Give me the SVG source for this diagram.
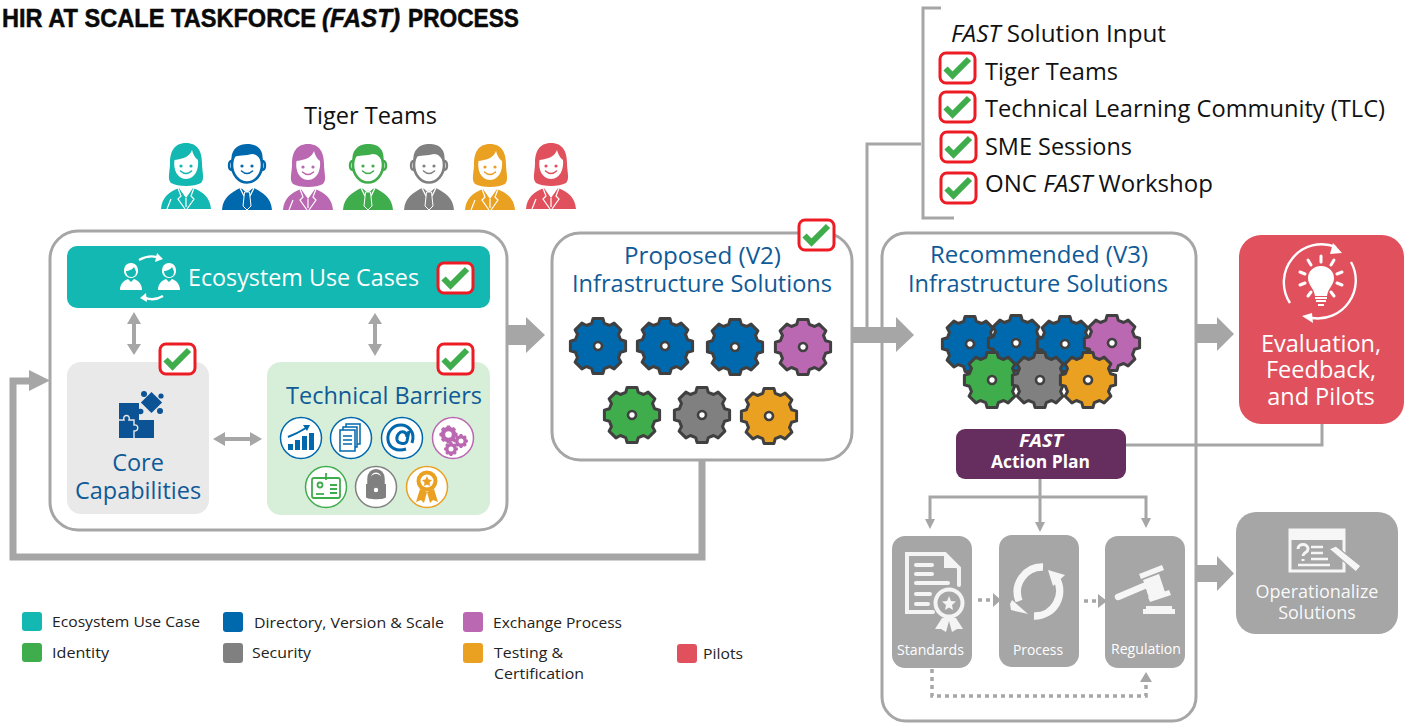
<svg xmlns="http://www.w3.org/2000/svg" xmlns:xlink="http://www.w3.org/1999/xlink" width="1410" height="723" viewBox="0 0 1410 723">
<style>
text{font-family:"Open Sans","Noto Sans","DejaVu Sans",sans-serif}
.t24{font-size:23.5px;fill:#111}
.blue{font-size:23.5px;fill:#0f5a97}
.wht{fill:#fff}
.leg{font-size:15px;fill:#222}
.ttl{font-family:"Liberation Sans",Arial,sans-serif;font-weight:700;font-size:26.5px;fill:#0a0a0a;stroke:#0a0a0a;stroke-width:.5}
.box{fill:#fff;stroke:#a6a6a6;stroke-width:3}
.ln{fill:none;stroke:#a6a6a6;stroke-width:3}
.dot{fill:none;stroke:#a6a6a6;stroke-width:3.5;stroke-dasharray:4 4}
.ar{fill:#a6a6a6}
.c-teal{color:#12b8b1}.c-blue{color:#0068ac}.c-pur{color:#ba68b1}.c-grn{color:#40ad4d}.c-gry{color:#808080}.c-org{color:#eaa021}.c-red{color:#e0515d}
.ic{fill:none;stroke:#f4f4f4;stroke-linecap:round}
</style>
<defs>
<path id="gearShape" d="M22.6,-6.3L27.6,-4.9L27.6,4.9L22.6,6.3L20.5,11.6L22.9,16.1L16.1,22.9L11.6,20.5L6.3,22.6L4.9,27.6L-4.9,27.6L-6.3,22.6L-11.6,20.5L-16.1,22.9L-22.9,16.1L-20.5,11.6L-22.6,6.3L-27.6,4.9L-27.6,-4.9L-22.6,-6.3L-20.5,-11.6L-22.9,-16.1L-16.1,-22.9L-11.6,-20.5L-6.3,-22.6L-4.9,-27.6L4.9,-27.6L6.3,-22.6L11.6,-20.5L16.1,-22.9L22.9,-16.1L20.5,-11.6Z"/>
<symbol id="gear" viewBox="-32 -32 64 64" width="64" height="64" overflow="visible">
<use href="#gearShape" fill="currentColor" stroke="#404040" stroke-width="3" stroke-linejoin="round"/>
<circle r="4" fill="#fff" stroke="#404040" stroke-width="2.6"/>
</symbol>
<symbol id="gearp" viewBox="-32 -32 64 64" width="64" height="64" overflow="visible">
<use href="#gearShape" fill="#ba68b1"/>
<circle r="10" fill="#fff"/>
</symbol>
<symbol id="check" viewBox="0 0 36 31" width="36" height="31" overflow="visible">
<rect x="1" y="1" width="35" height="30" rx="6" fill="#fff" stroke="#ed1c24" stroke-width="3"/>
<path d="M6.5,16.5L13.5,23.5L30,7" fill="none" stroke="#40ad4d" stroke-width="6"/>
</symbol>
<symbol id="woman" viewBox="0 0 50 66" width="50" height="66" overflow="visible">
<path fill="currentColor" d="M25,0C37,0 41,9 41,20C41,29 44,36 40,40C33,44 17,44 10,40C6,36 9,29 9,20C9,9 13,0 25,0Z"/>
<path fill="#fff" d="M31,7C29,13 23,16 13.5,17C12,26 16,36 25,36C34,36 38,26 37,17C34,15 32,11 31,7Z"/>
<circle cx="20" cy="23" r="1.6" fill="currentColor"/><circle cx="30" cy="23" r="1.6" fill="currentColor"/>
<path d="M19.5,28Q25,33 30.5,28" fill="none" stroke="currentColor" stroke-width="1.6" stroke-linecap="round"/>
<path fill="currentColor" d="M0,66C1,54 8,49 18,45L25,55L32,45C42,49 49,54 50,66Z"/>
<path d="M17,45L20,53L17,56L24,66M33,45L30,53L33,56L26,66M25,55V64M6,66L10,56" fill="none" stroke="#fff" stroke-width="1.2"/>
</symbol>
<symbol id="man" viewBox="0 0 50 66" width="50" height="66" overflow="visible">
<ellipse cx="25" cy="21" rx="15" ry="17.5" fill="#fff" stroke="currentColor" stroke-width="2.6"/>
<path fill="currentColor" d="M10,20C7,5 17,0 25,0C35,0 43,5 40,20C38,13 34,10 30,10C24,12 15,11 12,13Z"/>
<path d="M10,17C6,17 6,26 10,26M40,17C44,17 44,26 40,26" fill="none" stroke="currentColor" stroke-width="2.4"/>
<circle cx="20" cy="22" r="1.6" fill="currentColor"/><circle cx="30" cy="22" r="1.6" fill="currentColor"/>
<path d="M19.5,27Q25,32 30.5,27" fill="none" stroke="currentColor" stroke-width="1.6" stroke-linecap="round"/>
<path fill="currentColor" d="M0,66C1,53 9,49 18,44L25,47L32,44C41,49 49,53 50,66Z"/>
<path d="M21,45L25,48L29,45M18,44L22,52M32,44L28,52" fill="none" stroke="#fff" stroke-width="1.3"/>
<path d="M22.5,48L27.5,48L29,62L25,66L21,62Z" fill="currentColor" stroke="#fff" stroke-width="1"/>
</symbol>
<symbol id="mini" viewBox="0 0 22 27" width="22" height="27" overflow="visible">
<path fill="#fff" d="M11,0C16,0 18,4 18,8C18,12 15,15 11,15C7,15 4,12 4,8C4,4 6,0 11,0Z"/>
<path fill="#12b8b1" d="M6,8C9,8 13,6 14,4C15,6 16,8 16,9C16,12 14,14 11,14C8,14 6,11 6,8Z"/>
<path fill="#fff" d="M0,27C0,20 5,17 8,16L11,19L14,16C17,17 22,20 22,27Z"/>
</symbol>
</defs>

<g id="title">
<text class="ttl" x="2" y="27" textLength="314" lengthAdjust="spacingAndGlyphs">HIR AT SCALE TASKFORCE</text>
<text class="ttl" x="322" y="27" textLength="78" lengthAdjust="spacingAndGlyphs" font-style="italic">(FAST)</text>
<text class="ttl" x="408" y="27" textLength="111" lengthAdjust="spacingAndGlyphs">PROCESS</text>
</g>

<g id="tiger-teams">
<text class="t24" x="304" y="124" textLength="133" lengthAdjust="spacingAndGlyphs">Tiger Teams</text>
<use href="#woman" class="c-teal" x="161" y="143"/>
<use href="#man" class="c-blue" x="222" y="144"/>
<use href="#woman" class="c-pur" x="283" y="144"/>
<use href="#man" class="c-grn" x="343" y="144"/>
<use href="#man" class="c-gry" x="404" y="144"/>
<use href="#woman" class="c-org" x="465" y="144"/>
<use href="#woman" class="c-red" x="526" y="143"/>
</g>

<g id="solution-input">
<text class="t24" x="951" y="42" textLength="215" lengthAdjust="spacingAndGlyphs"><tspan font-style="italic">FAST</tspan> Solution Input</text>
<text class="t24" x="985" y="80" textLength="133" lengthAdjust="spacingAndGlyphs">Tiger Teams</text>
<text class="t24" x="985" y="117" textLength="400" lengthAdjust="spacingAndGlyphs">Technical Learning Community (TLC)</text>
<text class="t24" x="985" y="155" textLength="147" lengthAdjust="spacingAndGlyphs">SME Sessions</text>
<text class="t24" x="985" y="192" textLength="228" lengthAdjust="spacingAndGlyphs">ONC <tspan font-style="italic">FAST</tspan> Workshop</text>
<use href="#check" x="939" y="52"/>
<use href="#check" x="939" y="91"/>
<use href="#check" x="940" y="131"/>
<use href="#check" x="940" y="172"/>
</g>

<g id="ecosystem-box">
<rect class="box" x="50" y="231" width="457" height="299" rx="28"/>
</g>
<g id="proposed-frame">
<rect class="box" x="552" y="233" width="300" height="227" rx="28"/>
</g>
<g id="recommended-frame">
<rect class="box" x="882" y="233" width="314" height="488" rx="24"/>
</g>

<g id="connectors">
<path class="ln" d="M941,8H923V218H954"/>
<path class="ln" d="M921,144H867V333"/>
<path class="ln" d="M1126,445H1322V424"/>
<path class="ln" d="M1040,479V524M930,521V497H1146V520"/>
<path d="M925,519L935,519L930,529ZM1035,522L1045,522L1040,532ZM1141,518L1151,518L1146,528Z" class="ar"/>
<path d="M702,460V557H13V381H32" fill="none" stroke="#a6a6a6" stroke-width="7"/>
<path class="ar" d="M29,370L50,380.5L29,391Z"/>
<path class="ar" d="M506,325H526V317L545,335L526,353V345H506Z"/>
<path class="ar" d="M852,327H896V317L914,335L896,352V343H852Z"/>
<path class="ar" d="M1197,324H1217V317L1234,334L1217,351V343H1197Z"/>
<path class="ar" d="M1196,565H1217V556L1234,573.5L1217,591V582H1196Z"/>
<path class="ar" d="M127,324L134,312L141,324H136V344H141L134,355L127,344H132V324Z"/>
<path class="ar" d="M368,324L375,313L382,324H377V344H382L375,356L368,344H373V324Z"/>
<path class="ar" d="M225,432L213,439L225,446V441H250V446L262,439L250,432V437H225Z"/>
<path class="dot" d="M978,600H993"/><path class="ar" d="M993,593L1001,600L993,607Z"/>
<path class="dot" d="M1084,601H1098"/><path class="ar" d="M1098,594L1107,601L1098,608Z"/>
<path class="dot" d="M932,669V696H1146V682"/><path class="ar" d="M1140,682L1146,672L1152,682Z"/>
</g>

<g id="ecosystem-use-cases">
<rect x="67" y="246" width="423" height="62" rx="10" fill="#12b8b1"/>
<use href="#mini" x="120" y="263"/><use href="#mini" x="158" y="263"/>
<path d="M139,260Q150,254 160,258M163,296Q153,302 143,297" fill="none" stroke="#fff" stroke-width="2.4"/>
<path d="M157,253L163,259L155,262ZM146,293L140,298L147,302Z" fill="#fff"/>
<text class="wht" font-size="23.5" x="188" y="286" textLength="231" lengthAdjust="spacingAndGlyphs">Ecosystem Use Cases</text>
<use href="#check" x="437" y="262"/>
</g>

<g id="core-capabilities">
<rect x="67" y="362" width="142" height="152" rx="14" fill="#e9e9e9"/>
<path fill="#0b5394" d="M119,403H139V409C145,407 145,416 139,414V420H154V438H119Z"/>
<path fill="none" stroke="#e9e9e9" stroke-width="1.4" d="M119,420H124C122,414 131,414 129,420H134V425C139,424 139,431 134,431V438"/>
<rect x="144" y="395" width="15" height="15" transform="rotate(45 151.500 402.500)" fill="#0b5394"/>
<circle cx="144" cy="394" r="3" fill="#0b5394"/><circle cx="160" cy="411" r="3" fill="#0b5394"/><circle cx="161" cy="396" r="2.6" fill="#0b5394"/>
<text class="blue" y="471" text-anchor="middle"><tspan x="138">Core</tspan><tspan x="138" y="499">Capabilities</tspan></text>
<use href="#check" x="159" y="343"/>
</g>

<g id="technical-barriers">
<rect x="267" y="362" width="223" height="153" rx="14" fill="#d7efd9"/>
<text class="blue" x="286" y="404" textLength="196" lengthAdjust="spacingAndGlyphs">Technical Barriers</text>
<use href="#check" x="437" y="343"/>
<g fill="#fff" stroke-width="1.5">
<circle cx="301" cy="438" r="20.5" stroke="#0068ac"/>
<circle cx="351" cy="438" r="20.5" stroke="#0068ac"/>
<circle cx="402" cy="438" r="20.5" stroke="#0068ac"/>
<circle cx="453" cy="438" r="20.5" stroke="#ba68b1"/>
<circle cx="326" cy="487" r="20.5" stroke="#40ad4d"/>
<circle cx="376" cy="487" r="20.5" stroke="#808080"/>
<circle cx="427" cy="487" r="20.5" stroke="#eaa021"/>
</g>
<g fill="#0068ac">
<rect x="288" y="444" width="5" height="6"/><rect x="295" y="440" width="5" height="10"/><rect x="302" y="436" width="5" height="14"/><rect x="309" y="433" width="5" height="17"/>
<path d="M288,437Q298,433 306,428" fill="none" stroke="#0068ac" stroke-width="2"/><path d="M303,425L310,425L307,431Z"/>
</g>
<g fill="#fff" stroke="#0068ac" stroke-width="1.5">
<rect x="346" y="424" width="14" height="20"/><rect x="343" y="427" width="14" height="20"/><rect x="340" y="430" width="15" height="21"/>
<path d="M343,436H352M343,440H352M343,444H352" fill="none"/>
</g>
<path d="M412,443C416,431 407,425 401,425C392,425 387,433 388,440C389,448 397,452 406,449M409,431L407,441C406,445 398,444 397,440C396,435 400,431 404,432C407,433 407,437 407,437" fill="none" stroke="#0068ac" stroke-width="3"/>
<use href="#gearp" width="21" height="21" x="438" y="424"/>
<use href="#gearp" width="16" height="16" x="453" y="433"/>
<use href="#gearp" width="16" height="16" x="443" y="441"/>
<g fill="none" stroke="#40ad4d" stroke-width="1.8">
<rect x="312" y="478" width="28" height="20" rx="2"/>
<path d="M326,473V480M330,485H337M330,489H337M330,493H337"/>
<circle cx="320" cy="485" r="2.5"/><path d="M316,494H324"/>
</g>
<path fill="#808080" d="M370,484V480C370,472 382,472 382,480V484H386V497C386,500 366,500 366,497V484Z"/>
<path fill="none" stroke="#808080" stroke-width="3.5" d="M369,484V479C369,468 383,468 383,479V484"/>
<circle cx="376" cy="490" r="2.2" fill="#fff"/>
<path fill="#eaa021" d="M420,489L416,502L421,500L424,503L427,492ZM434,489L438,502L433,500L430,503L427,492Z"/>
<circle cx="427" cy="481" r="10.5" fill="#eaa021"/><circle cx="427" cy="481" r="6.5" fill="#fff"/>
<path fill="#eaa021" d="M427,476L428.5,479.5L432,480L429.5,482.5L430,486L427,484.5L424,486L424.5,482.5L422,480L425.5,479.5Z"/>
</g>

<g id="proposed-v2">
<text class="blue" y="264"><tspan x="624" textLength="157" lengthAdjust="spacingAndGlyphs">Proposed (V2)</tspan><tspan x="572" y="292" textLength="260" lengthAdjust="spacingAndGlyphs">Infrastructure Solutions</tspan></text>
<use href="#check" x="798" y="219"/>
<use href="#gear" class="c-blue" x="566" y="314"/>
<use href="#gear" class="c-blue" x="633" y="314"/>
<use href="#gear" class="c-blue" x="703" y="315"/>
<use href="#gear" class="c-pur" x="771" y="315"/>
<use href="#gear" class="c-grn" x="600" y="383"/>
<use href="#gear" class="c-gry" x="670" y="383"/>
<use href="#gear" class="c-org" x="737" y="384"/>
</g>

<g id="recommended-v3">
<text class="blue" y="263"><tspan x="930" textLength="218" lengthAdjust="spacingAndGlyphs">Recommended (V3)</tspan><tspan x="908" y="292" textLength="260" lengthAdjust="spacingAndGlyphs">Infrastructure Solutions</tspan></text>
<use href="#gear" class="c-blue" x="938" y="312"/>
<use href="#gear" class="c-blue" x="984" y="311"/>
<use href="#gear" class="c-blue" x="1033" y="312"/>
<use href="#gear" class="c-pur" x="1080" y="311"/>
<use href="#gear" class="c-grn" x="960" y="348"/>
<use href="#gear" class="c-gry" x="1008" y="348"/>
<use href="#gear" class="c-org" x="1056" y="348"/>
</g>

<g id="action-plan">
<rect x="956" y="429" width="170" height="50" rx="9" fill="#662d5f"/>
<text class="wht" y="447" font-size="17" font-weight="700"><tspan x="1019" font-style="italic" textLength="44" lengthAdjust="spacingAndGlyphs">FAST</tspan><tspan x="991" y="468" textLength="99" lengthAdjust="spacingAndGlyphs">Action Plan</tspan></text>
</g>

<g id="standards">
<rect x="892" y="536" width="80" height="132" rx="13" fill="#a6a6a6"/>
<path class="ic" stroke-width="4" d="M933,612H907V554H945L959,568V585"/>
<path class="ic" stroke-width="4" d="M916,565H932M916,574H932M916,583H948M916,594H930M916,604H928"/>
<path d="M944,554L959,568H944Z" fill="#f4f4f4"/>
<circle cx="949" cy="603" r="13.5" fill="#a6a6a6" stroke="#f4f4f4" stroke-width="4"/>
<path d="M949,596L951,601L956,601.5L952,605L953,610L949,607.5L945,610L946,605L942,601.5L947,601Z" fill="#f4f4f4"/>
<path d="M942,618L935,629L941,629L946,632L949,621L952,632L957,629L963,629L956,618Z" fill="#f4f4f4"/>
<text class="wht" x="897" y="655" font-size="14.5" textLength="67" lengthAdjust="spacingAndGlyphs">Standards</text>
</g>

<g id="process">
<rect x="999" y="535" width="80" height="132" rx="13" fill="#a6a6a6"/>
<path fill="none" stroke="#f6f6f6" stroke-width="7.5" d="M1043,567A25,25 0 0 0 1019,601M1034,616A25,25 0 0 0 1056,578"/>
<path fill="#f6f6f6" d="M1012,600L1028,614L1011,610L1010,604ZM1048,570L1065,575L1053,586Z"/>
<text class="wht" x="1013" y="655" font-size="14.5" textLength="50" lengthAdjust="spacingAndGlyphs">Process</text>
</g>

<g id="regulation">
<rect x="1105" y="536" width="80" height="132" rx="13" fill="#a6a6a6"/>
<path d="M1118,597L1144,586" stroke="#f6f6f6" stroke-width="6.5" stroke-linecap="round"/>
<path fill="#f6f6f6" d="M1139,574L1162,565L1164,570L1141,579ZM1143,580L1159,574L1165,592L1149,598ZM1148,597L1169,590L1171,595L1150,602Z"/>
<path fill="#f6f6f6" d="M1146,606H1172V609H1175V614H1143V609H1146Z"/>
<text class="wht" x="1111" y="654" font-size="14.5" textLength="70" lengthAdjust="spacingAndGlyphs">Regulation</text>
</g>

<g id="evaluation">
<rect x="1239" y="235" width="165" height="189" rx="22" fill="#e0515d"/>
<path d="M1290,303A38,38 0 0 1 1336,247M1351,262A38,38 0 0 1 1312,318" fill="none" stroke="#fff" stroke-width="2.4"/>
<path d="M1342,253L1333,243L1330,254ZM1302,316L1312,313L1313,323Z" fill="#fff"/>
<path d="M1321,266C1329,266 1334,272 1334,278C1334,285 1328,288 1327,296H1315C1314,288 1308,285 1308,278C1308,272 1313,266 1321,266Z" fill="#fff"/>
<path d="M1315,298H1327M1316,301H1326M1318,305H1324" stroke="#fff" stroke-width="2"/>
<path d="M1321,256V262M1308,260L1311,265M1334,260L1331,265M1300,272L1305,274M1342,272L1337,274M1300,285L1305,283M1342,285L1337,283M1308,296L1311,292M1334,296L1331,292" stroke="#fff" stroke-width="3" stroke-linecap="round"/>
<text class="wht" text-anchor="middle" y="352" font-size="23.5"><tspan x="1321">Evaluation,</tspan><tspan x="1321" y="378">Feedback,</tspan><tspan x="1321" y="405">and Pilots</tspan></text>
</g>

<g id="operationalize">
<rect x="1236" y="512" width="162" height="122" rx="20" fill="#a6a6a6"/>
<rect x="1290" y="530" width="54" height="41" fill="none" stroke="#f6f6f6" stroke-width="3"/>
<rect x="1290" y="530" width="54" height="10" fill="#f6f6f6"/>
<path d="M1298,549C1298,543 1308,543 1308,549C1308,553 1303,552 1303,556M1303,559V561" fill="none" stroke="#f6f6f6" stroke-width="3"/>
<path d="M1311,547H1323M1311,553H1323M1311,559H1328M1298,565H1330" stroke="#f6f6f6" stroke-width="2.6"/>
<path d="M1329,549L1336,546L1361,566L1356,572Z" fill="#f6f6f6" stroke="#a6a6a6" stroke-width="1.2"/>
<text class="wht" text-anchor="middle" y="598" font-size="18" fill-opacity=".95"><tspan x="1317">Operationalize</tspan><tspan x="1317" y="619">Solutions</tspan></text>
</g>

<g id="legend">
<rect x="22" y="612" width="20" height="19" rx="3" fill="#12b8b1"/>
<rect x="223" y="612" width="20" height="20" rx="3" fill="#0068ac"/>
<rect x="463" y="612" width="20" height="20" rx="3" fill="#ba68b1"/>
<rect x="22" y="643" width="20" height="19" rx="3" fill="#40ad4d"/>
<rect x="223" y="643" width="20" height="20" rx="3" fill="#808080"/>
<rect x="463" y="643" width="20" height="20" rx="3" fill="#eaa021"/>
<rect x="677" y="644" width="20" height="19" rx="3" fill="#e0515d"/>
<text class="leg" x="52" y="627" textLength="148" lengthAdjust="spacingAndGlyphs">Ecosystem Use Case</text>
<text class="leg" x="254" y="628" textLength="190" lengthAdjust="spacingAndGlyphs">Directory, Version &amp; Scale</text>
<text class="leg" x="493" y="628" textLength="129" lengthAdjust="spacingAndGlyphs">Exchange Process</text>
<text class="leg" x="52" y="658" textLength="57" lengthAdjust="spacingAndGlyphs">Identity</text>
<text class="leg" x="252" y="658" textLength="59" lengthAdjust="spacingAndGlyphs">Security</text>
<text class="leg" y="658"><tspan x="494" textLength="69" lengthAdjust="spacingAndGlyphs">Testing &amp;</tspan><tspan x="494" y="679" textLength="90" lengthAdjust="spacingAndGlyphs">Certification</tspan></text>
<text class="leg" x="703" y="659" textLength="40" lengthAdjust="spacingAndGlyphs">Pilots</text>
</g>
</svg>
